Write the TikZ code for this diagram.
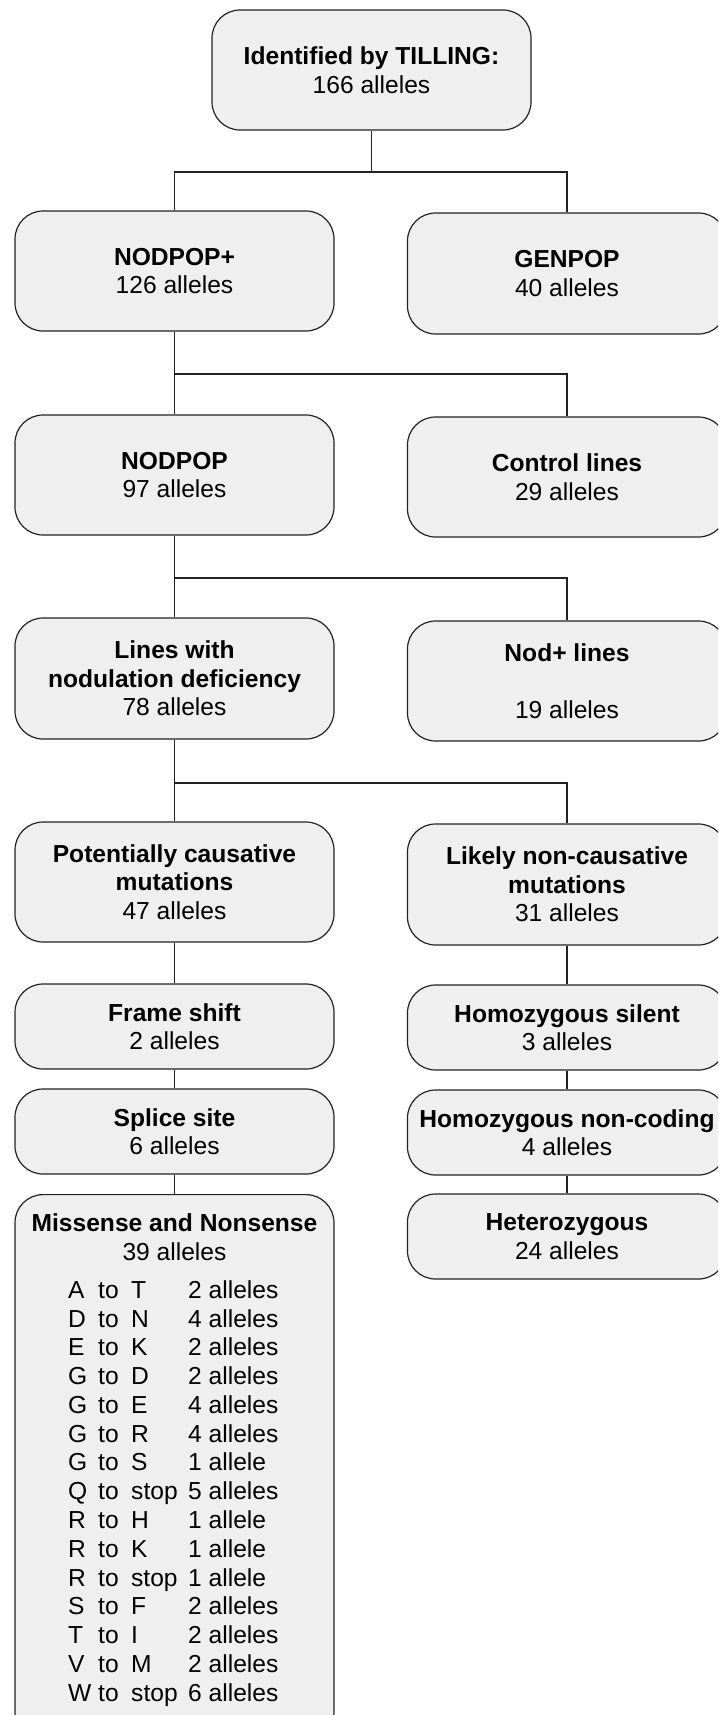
\documentclass[tikz,border=0pt]{standalone}
\usepackage{fontspec}
\setmainfont{Liberation Sans}
\usepackage{array}
\definecolor{boxgray}{HTML}{EFEFEF}
\definecolor{edge}{HTML}{222222}
\begin{document}
\begin{tikzpicture}[x=1pt,y=1pt,
  box/.style={draw=edge, fill=boxgray, rounded corners=28pt, line width=1.2pt,
    minimum width=319pt, align=center, inner sep=0pt,
    font=\fontsize{24.6}{28.5}\selectfont},
  txt/.style={align=center, inner sep=0pt, font=\fontsize{24.6}{28.5}\selectfont},
  conn/.style={draw=edge, line width=1.1pt}]
\useasboundingbox (0,0) rectangle (718,-1715);
\clip (0,0) rectangle (718,-1715);
\fill[white] (0,0) rectangle (718,-1715);

% nodes
\node[box, minimum height=120pt] (top) at (371.5,-70) {\textbf{Identified by TILLING:}\\166 alleles};

\node[box, minimum height=120pt] (nodpopp) at (174.5,-271) {\textbf{NODPOP+}\\126 alleles};
\node[box, minimum height=121pt] (genpop) at (567,-273.5) {\textbf{GENPOP}\\40 alleles};

\node[box, minimum height=120pt] (nodpop) at (174.5,-475) {\textbf{NODPOP}\\97 alleles};
\node[box, minimum height=120pt] (control) at (567,-477) {\textbf{Control lines}\\29 alleles};

\node[box, minimum height=121pt] (lines) at (174.5,-678.5) {\textbf{Lines with}\\\textbf{nodulation deficiency}\\78 alleles};
\node[box, minimum height=120pt] (nodp) at (567,-681) {\textbf{Nod+ lines}\\[28.5pt]19 alleles};

\node[box, minimum height=120pt] (pot) at (174.5,-882) {\textbf{Potentially causative}\\\textbf{mutations}\\47 alleles};
\node[box, minimum height=121pt] (likely) at (567,-884.5) {\textbf{Likely non-causative}\\\textbf{mutations}\\31 alleles};

\node[box, minimum height=85pt] (fs) at (174.5,-1026.5) {\textbf{Frame shift}\\2 alleles};
\node[box, minimum height=85pt] (hs) at (567,-1027.5) {\textbf{Homozygous silent}\\3 alleles};

\node[box, minimum height=85pt] (ss) at (174.5,-1131.5) {\textbf{Splice site}\\6 alleles};
\node[box, minimum height=85pt] (hnc) at (567,-1132.5) {\textbf{Homozygous non-coding}\\4 alleles};

\node[box, minimum height=545pt, anchor=north] (mis) at (174.5,-1194) {};
\node[box, minimum height=85pt] (het) at (567,-1236.5) {\textbf{Heterozygous}\\24 alleles};

\node[txt, anchor=north] (mistitle) at (174.5,-1213.5) {\textbf{Missense and Nonsense}\\39 alleles};
\node[inner sep=0pt, anchor=north west] (mistable) at (68,-1278) {%
\fontsize{24.6}{28.77}\selectfont
\setlength{\tabcolsep}{0pt}%
\begin{tabular}{@{}p{30pt}p{33pt}p{57pt}l@{}}
A & to & T & 2 alleles\\
D & to & N & 4 alleles\\
E & to & K & 2 alleles\\
G & to & D & 2 alleles\\
G & to & E & 4 alleles\\
G & to & R & 4 alleles\\
G & to & S & 1 allele\\
Q & to & stop & 5 alleles\\
R & to & H & 1 allele\\
R & to & K & 1 allele\\
R & to & stop & 1 allele\\
S & to & F & 2 alleles\\
T & to & I & 2 alleles\\
V & to & M & 2 alleles\\
W & to & stop & 6 alleles\\
\end{tabular}};

% buses
\coordinate (bus1) at (0,-172);
\coordinate (bus2) at (0,-374);
\coordinate (bus3) at (0,-578);
\coordinate (bus4) at (0,-783);

\draw[conn] (top.south) -- (top.south |- bus1);
\draw[conn] (nodpopp.north) -- (nodpopp.north |- bus1) -- (genpop.north |- bus1) -- (genpop.north);

\draw[conn] (nodpopp.south) -- (nodpop.north);
\draw[conn] (nodpopp.south |- bus2) -- (control.north |- bus2) -- (control.north);

\draw[conn] (nodpop.south) -- (lines.north);
\draw[conn] (nodpop.south |- bus3) -- (nodp.north |- bus3) -- (nodp.north);

\draw[conn] (lines.south) -- (pot.north);
\draw[conn] (lines.south |- bus4) -- (likely.north |- bus4) -- (likely.north);

\draw[conn] (pot.south) -- (fs.north);
\draw[conn] (fs.south) -- (ss.north);
\draw[conn] (ss.south) -- (mis.north);

\draw[conn] (likely.south) -- (hs.north);
\draw[conn] (hs.south) -- (hnc.north);
\draw[conn] (hnc.south) -- (het.north);
\end{tikzpicture}
\end{document}
